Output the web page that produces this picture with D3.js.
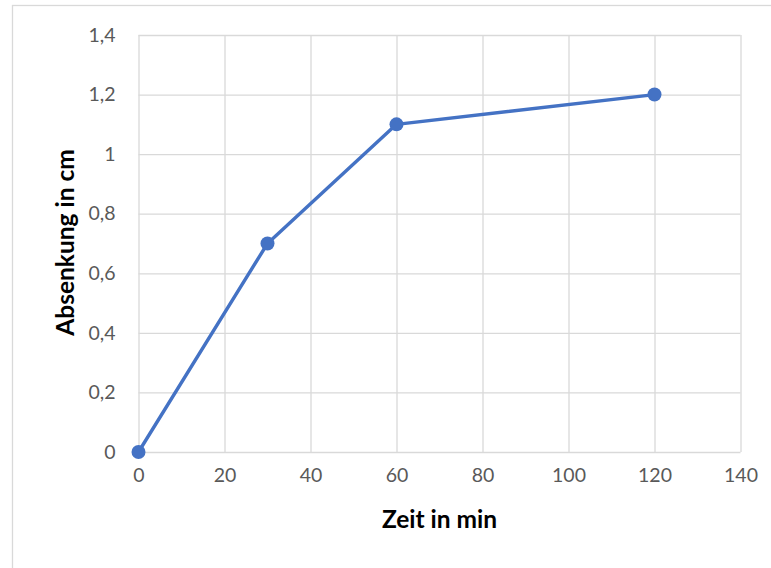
<!DOCTYPE html>
<html><head><meta charset="utf-8">
<script src="https://cdn.jsdelivr.net/npm/d3@7"></script>
<style>body{margin:0;background:#fff}svg{display:block}</style>
</head><body>
<script>
const timeMin = [0, 30, 60, 120];
const absenkung = [0, 0.7, 1.1, 1.2];
const xTicks = [0, 20, 40, 60, 80, 100, 120, 140];
const yTicks = [0, 0.2, 0.4, 0.6, 0.8, 1, 1.2, 1.4];
const xTitle = "Zeit in min";
const yTitle = "Absenkung in cm";

const W = 771, H = 568;
const m = {left: 138.5, right: 740.5, top: 35, bottom: 452};
const font = "Lato, 'Open Sans', sans-serif";

const svg = d3.select("body").append("svg").attr("width", W).attr("height", H);
svg.append("rect").attr("x", 0).attr("y", 0).attr("width", W).attr("height", H).attr("fill", "#fff");
svg.append("rect").attr("x", 12.5).attr("y", 5.5).attr("width", W + 10).attr("height", H + 10)
  .attr("fill", "none").attr("stroke", "#d9d9d9").attr("stroke-width", 1.3);

const x = d3.scaleLinear().domain([0, 140]).range([m.left, m.right]);
const y = d3.scaleLinear().domain([0, 1.4]).range([m.bottom, m.top]);

const fmt = v => d3.format("")(+v.toFixed(1)).replace(".", ",");

// grid
const gx = svg.append("g").attr("transform", `translate(0,${m.bottom})`)
  .call(d3.axisBottom(x).tickValues(xTicks).tickSize(-(m.bottom - m.top)).tickFormat(d => d).tickPadding(16));
const gy = svg.append("g").attr("transform", `translate(${m.left},0)`)
  .call(d3.axisLeft(y).tickValues(yTicks).tickSize(-(m.right - m.left)).tickFormat(fmt).tickPadding(23));
[gx, gy].forEach(g => {
  g.select(".domain").remove();
  g.selectAll(".tick line").attr("stroke", "#d9d9d9").attr("stroke-width", 1.3);
  g.selectAll(".tick text").attr("fill", "#595959").style("font-family", font).style("font-size", "19.5px");
});
gx.selectAll(".tick text").attr("dy", "0.71em");

// line
const line = d3.line().x((d, i) => x(timeMin[i])).y(d => y(d));
svg.append("path").datum(absenkung).attr("d", line)
  .attr("fill", "none").attr("stroke", "#4472C4").attr("stroke-width", 3.4).attr("stroke-linejoin", "round");
svg.selectAll("circle.pt").data(absenkung).enter().append("circle").attr("class", "pt")
  .attr("cx", (d, i) => x(timeMin[i])).attr("cy", d => y(d)).attr("r", 7).attr("fill", "#4472C4");

// titles
svg.append("text").attr("x", (m.left + m.right) / 2).attr("y", 528).attr("text-anchor", "middle")
  .style("font-family", font).style("font-size", "24.5px").style("font-weight", "bold").attr("fill", "#000").text(xTitle);
svg.append("text").attr("transform", `translate(74,${(m.top + m.bottom) / 2 - 1}) rotate(-90)`).attr("text-anchor", "middle")
  .style("font-family", font).style("font-size", "24.5px").style("font-weight", "bold").attr("fill", "#000").text(yTitle);
</script>
</body></html>
